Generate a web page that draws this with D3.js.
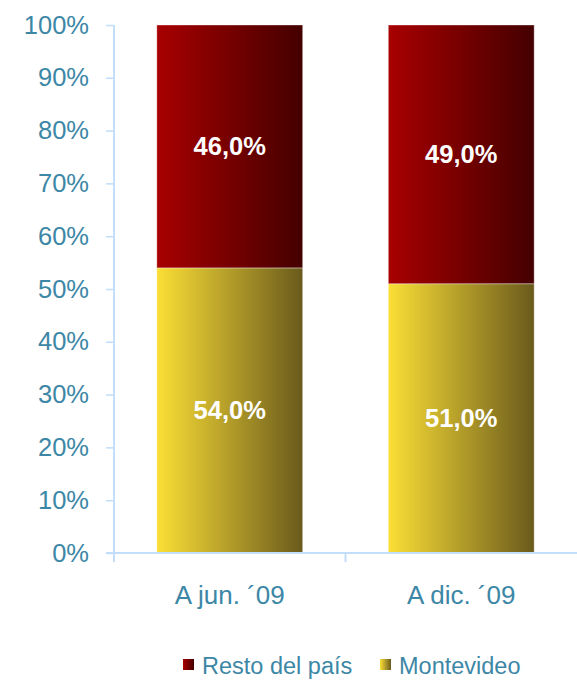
<!DOCTYPE html>
<html><head><meta charset="utf-8">
<script src="https://cdn.jsdelivr.net/npm/d3@7"></script>
<style>body{margin:0;background:#fff}svg{display:block}text{font-family:"Liberation Sans",Arial,sans-serif}</style>
</head><body>
<script>
const categories = ["A jun. \u00b409", "A dic. \u00b409"];
const montevideo = [54.0, 51.0];
const restoPais = [46.0, 49.0];
const seriesNames = ["Resto del pa\u00eds", "Montevideo"];
const yTicks = [0,10,20,30,40,50,60,70,80,90,100];

const W = 577, H = 686;
const svg = d3.select("body").append("svg").attr("width", W).attr("height", H);
const defs = svg.append("defs");
function grad(id, c1, c2){
  const g = defs.append("linearGradient").attr("id", id).attr("x1","0%").attr("x2","100%").attr("y1","0%").attr("y2","0%");
  g.append("stop").attr("offset","0%").attr("stop-color", c1);
  g.append("stop").attr("offset","100%").attr("stop-color", c2);
}
grad("gRed", "#a80000", "#440000");
grad("gYel", "#fbdf36", "#6a5a1c");

const x = d3.scaleBand().domain(categories).range([114, 577]).paddingInner(0.37).paddingOuter(0.185);
const y = d3.scaleLinear().domain([0, 100]).range([553, 25]);
const axisColor = "#c2defa";
const textColor = "#3d87a6";

// Y axis
const yAxis = svg.append("g").attr("transform", "translate(114,0)")
  .call(d3.axisLeft(y).tickValues(yTicks).tickFormat(d => d + "%").tickSize(8).tickPadding(17));
yAxis.select(".domain").remove();
yAxis.selectAll("line").attr("stroke", axisColor).attr("stroke-width", 1.5);
yAxis.selectAll("text").attr("fill", textColor).attr("font-size", 25.5);
svg.append("line").attr("x1",114).attr("x2",114).attr("y1",y(100)).attr("y2",562).attr("stroke",axisColor).attr("stroke-width",2);

// bars
const data = categories.map((c,i)=>({c, m: montevideo[i], r: restoPais[i]}));
const g = svg.append("g");
data.forEach(d => {
  g.append("rect").attr("x", x(d.c)).attr("width", x.bandwidth())
    .attr("y", y(d.m)).attr("height", y(0)-y(d.m)).attr("fill","url(#gYel)")
    .attr("stroke","rgba(255,255,255,0.35)").attr("stroke-width",1);
  g.append("rect").attr("x", x(d.c)).attr("width", x.bandwidth())
    .attr("y", y(d.m + d.r)).attr("height", y(d.m)-y(d.m+d.r)).attr("fill","url(#gRed)")
    .attr("stroke","rgba(255,255,255,0.35)").attr("stroke-width",1);
  const fmt = v => v.toFixed(1).replace(".", ",") + "%";
  g.append("text").attr("x", x(d.c)+x.bandwidth()/2).attr("y", (y(d.m)+y(0))/2).attr("dy","0.35em")
    .attr("text-anchor","middle").attr("fill","#fff").attr("font-weight","bold").attr("font-size",25.5).text(fmt(d.m));
  g.append("text").attr("x", x(d.c)+x.bandwidth()/2).attr("y", (y(d.m+d.r)+y(d.m))/2).attr("dy","0.35em")
    .attr("text-anchor","middle").attr("fill","#fff").attr("font-weight","bold").attr("font-size",25.5).text(fmt(d.r));
});

// X axis
svg.append("line").attr("x1",106).attr("x2",577).attr("y1",y(0)).attr("y2",y(0)).attr("stroke",axisColor).attr("stroke-width",2);
const step = x.step();
[1].forEach(k=>{
  const xx = 114 + k*step;
  svg.append("line").attr("x1",xx).attr("x2",xx).attr("y1",y(0)).attr("y2",562).attr("stroke",axisColor).attr("stroke-width",2);
});
categories.forEach(c=>{
  svg.append("text").attr("x", x(c)+x.bandwidth()/2).attr("y", 604).attr("text-anchor","middle")
    .attr("fill",textColor).attr("font-size",26).text(c);
});

// Legend
const legend = [
  {name: seriesNames[0], fill: "url(#gRed)", x: 183},
  {name: seriesNames[1], fill: "url(#gYel)", x: 380}
];
legend.forEach(l=>{
  svg.append("rect").attr("x", l.x).attr("y", 659).attr("width", 11).attr("height", 11).attr("fill", l.fill);
  svg.append("text").attr("x", l.x+19).attr("y", 674).attr("fill", textColor).attr("font-size", 23.5).text(l.name);
});
</script>
</body></html>
